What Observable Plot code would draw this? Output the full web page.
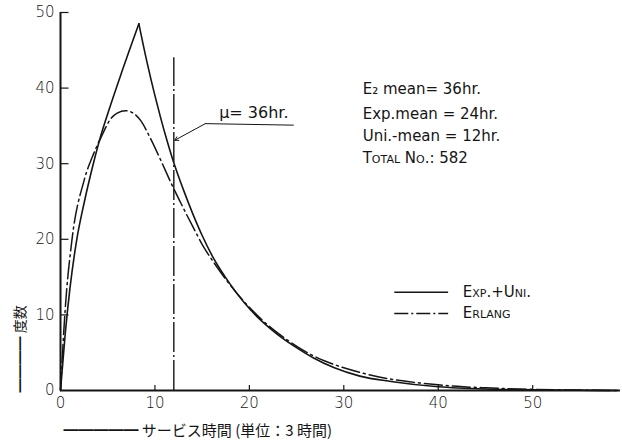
<!DOCTYPE html>
<html>
<head>
<meta charset="utf-8">
<script src="https://cdn.jsdelivr.net/npm/d3@7"></script>
<script src="https://cdn.jsdelivr.net/npm/@observablehq/plot@0.6"></script>
<style>
  html, body { margin: 0; padding: 0; background: #fff; }
  #chart { width: 622px; height: 447px; overflow: hidden; }
</style>
</head>
<body>
<div id="chart"></div>
<script>
// ---- data ----
const xTicks = [0, 10, 20, 30, 40, 50];
const yTicks = [0, 10, 20, 30, 40, 50];

// Exp.+Uni. (solid) : rising branch and falling branch share the peak
const expUniRiseX = [0, 0.5, 1.0, 1.7, 2.5, 3.2, 4.2, 5.0, 6.4, 8.3];
const expUniRiseY = [0, 7.5, 13.5, 19.8, 24.8, 28.6, 33.4, 36.6, 41.8, 48.5];
const expUniFallX = [8.3, 9.2, 10.0, 10.6, 11.2, 11.8, 12.5, 13, 14, 15, 16.2, 18, 19.4, 21.2, 23, 24.7, 26.8, 29, 31.7, 35, 40, 45, 50, 55, 59];
const expUniFallY = [48.5, 43.2, 39.0, 36.1, 33.4, 30.9, 28.3, 26.6, 23.4, 20.5, 17.5, 14.0, 11.7, 9.3, 7.4, 5.9, 4.3, 3.0, 1.9, 1.2, 0.5, 0.2, 0.1, 0.03, 0];

// Erlang (dash-dot)
const erlangX = [0, 0.5, 1.2, 2.5, 3.5, 4.3, 5.3, 6.0, 6.9, 7.8, 8.5, 9.5, 10.6, 11.8, 12.7, 14, 15.2, 16.2, 18, 20, 22, 24, 26, 28, 30, 32, 35, 38, 40, 42, 45, 50, 55, 59];
const erlangY = [0, 10.8, 19.8, 27.8, 31.3, 33.5, 35.9, 36.7, 37.0, 36.6, 35.7, 33.4, 30.5, 27.2, 24.9, 21.7, 18.9, 17.0, 13.9, 11.0, 8.6, 6.7, 5.1, 3.9, 3.0, 2.3, 1.5, 1.0, 0.75, 0.55, 0.35, 0.15, 0.05, 0];

const muValue = 12;      // 36 hr / 3 hr units
const muTop = 44;

const infoLines = ["E\u2082 mean= 36hr.", "Exp.mean = 24hr.", "Uni.-mean = 12hr."];
const totalLine = "Total No.: 582";
const legendLabels = ["Exp.+Uni.", "Erlang"];
const muLabel = "\u03bc= 36hr.";
const xLabel = "━━━━━ サービス時間 (単位：3 時間)";
const yLabel = "━━━━ 度数";

// ---- tables ----
const expUni = [
  ...expUniRiseX.map((x, i) => ({x, y: expUniRiseY[i], seg: "rise"})),
  ...expUniFallX.map((x, i) => ({x, y: expUniFallY[i], seg: "fall"}))
];
const erlang = erlangX.map((x, i) => ({x, y: erlangY[i]}));

const ink = "#151515";
const latin = "DejaVu Sans, Liberation Sans, sans-serif";
const cjk = "Noto Sans CJK JP, sans-serif";
const dashDot = "18,4,2,4";

// annotation anchors (data units)
const infoX = 32.0, infoY = [39.8, 36.6, 33.7], totalY = 30.7;
const legX1 = 35.4, legX2 = 41.1, legTextX = 42.6, legY = [13.0, 10.2];

const chart = Plot.plot({
  width: 622,
  height: 447,
  marginLeft: 60,
  marginRight: 2,
  marginTop: 12,
  marginBottom: 57,
  style: {background: "#fff", color: ink, fontFamily: latin},
  x: {domain: [0, 59.3]},
  y: {domain: [0, 50]},
  marks: [
    // axes
    Plot.axisX(xTicks, {tickSize: 0, tickPadding: 7, fontSize: 15, fontFamily: latin, fontWeight: 300, label: null}),
    Plot.axisY(yTicks, {tickSize: 0, tickPadding: 6, fontSize: 15, fontFamily: latin, fontWeight: 300, label: null}),
    Plot.ruleY([0], {stroke: ink, strokeWidth: 2}),
    Plot.ruleX([0], {y1: 0, y2: 50, stroke: ink, strokeWidth: 2}),
    Plot.ruleX(xTicks.slice(1), {x: d => d, y1: 0, y2: 0.65, stroke: ink, strokeWidth: 1.2}),
    Plot.ruleY(yTicks.slice(1), {y: d => d, x1: 0, x2: 0.9, stroke: ink, strokeWidth: 1.2}),
    // mean marker
    Plot.ruleX([muValue], {y1: 0, y2: muTop, stroke: ink, strokeWidth: 1.4, strokeDasharray: "30,3,2,3"}),
    // curves
    Plot.line(expUni, {x: "x", y: "y", z: "seg", curve: "monotone-x", stroke: ink, strokeWidth: 1.6}),
    Plot.line(erlang, {x: "x", y: "y", curve: "monotone-x", stroke: ink, strokeWidth: 1.5, strokeDasharray: dashDot}),
    // mu annotation
    Plot.line([{x: 15.34, y: 35.3}, {x: 24.66, y: 35.1}], {x: "x", y: "y", stroke: ink, strokeWidth: 1}),
    Plot.arrow([{x1: 15.34, y1: 35.3, x2: 12.1, y2: 33.1}], {x1: "x1", y1: "y1", x2: "x2", y2: "y2", stroke: ink, strokeWidth: 1, headLength: 6}),
    Plot.text([muLabel], {x: 16.8, y: 36.7, text: d => d, textAnchor: "start", fontSize: 16, fontFamily: latin, fill: ink}),
    // info block
    Plot.text(infoLines, {x: infoX, y: (d, i) => infoY[i], text: d => d, textAnchor: "start", fontSize: 15, fontFamily: latin, fill: ink}),
    Plot.text([totalLine], {x: infoX, y: totalY, text: d => d, textAnchor: "start", fontSize: 15, fontFamily: latin, fontVariant: "small-caps", fill: ink}),
    // legend
    Plot.ruleY([legY[0]], {x1: legX1, x2: legX2, stroke: ink, strokeWidth: 1.5}),
    Plot.ruleY([legY[1]], {x1: legX1, x2: legX2, stroke: ink, strokeWidth: 1.5, strokeDasharray: "14,3,2,3"}),
    Plot.text(legendLabels, {x: legTextX, y: (d, i) => legY[i], text: d => d, textAnchor: "start", fontSize: 15, fontFamily: latin, fontVariant: "small-caps", fill: ink}),
    // axis titles
    Plot.text([xLabel], {frameAnchor: "bottom-left", dx: 3, dy: 41, text: d => d, textAnchor: "start", lineAnchor: "middle", fontSize: 15, fontFamily: cjk, fill: ink}),
    Plot.text([yLabel], {frameAnchor: "bottom-left", dx: -40, dy: 2, rotate: -90, text: d => d, textAnchor: "start", lineAnchor: "middle", fontSize: 14, fontFamily: cjk, fill: ink})
  ]
});
document.getElementById("chart").appendChild(chart);
</script>
</body>
</html>
